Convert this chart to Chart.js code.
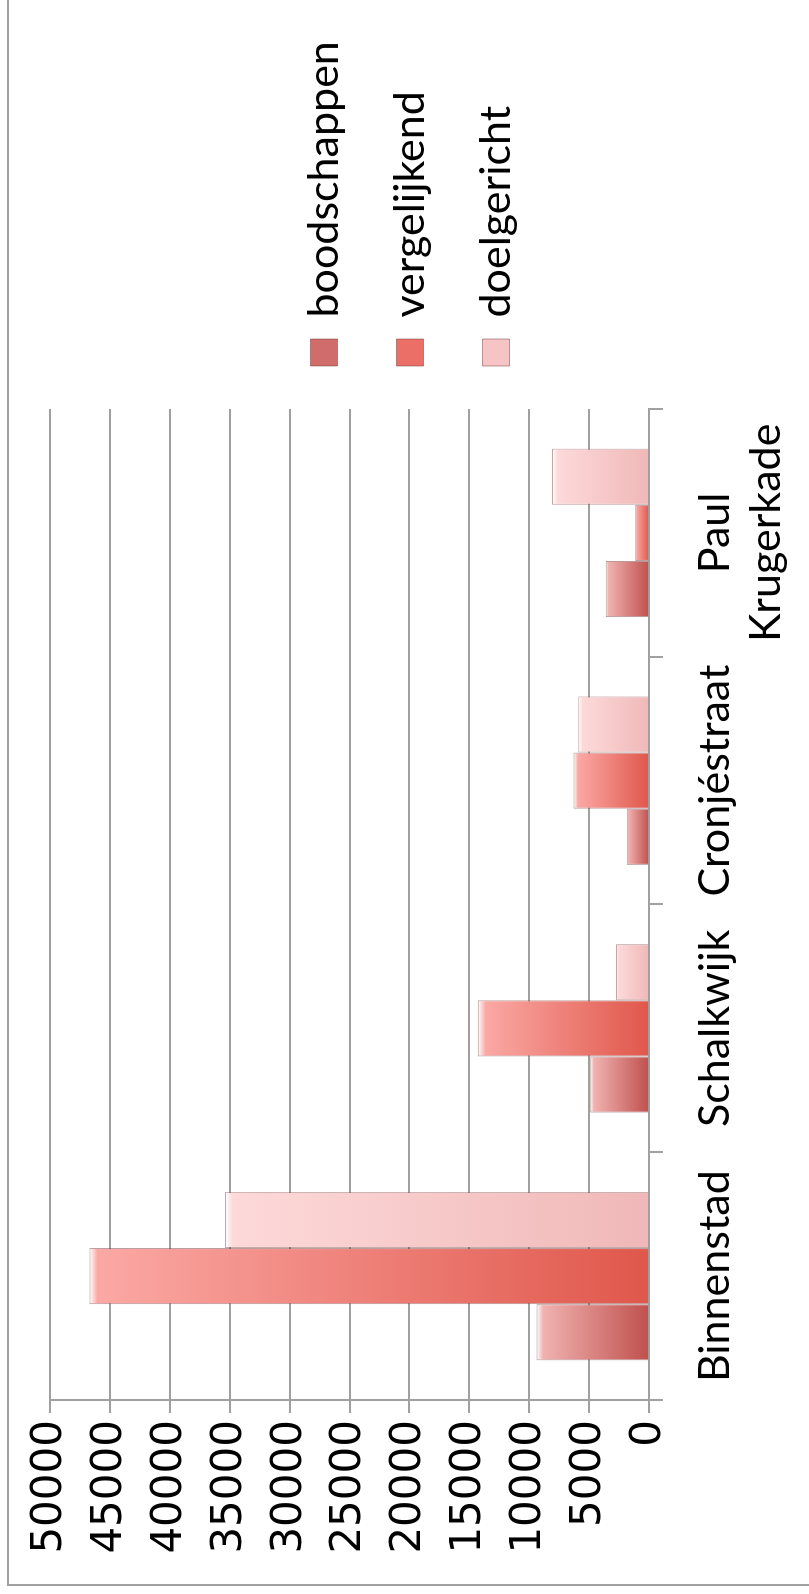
<!DOCTYPE html>
<html>
<head>
<meta charset="utf-8">
<script src="https://cdn.jsdelivr.net/npm/chart.js@4/dist/chart.umd.min.js"></script>
<style>
    html, body { margin: 0; padding: 0; background: #fff; overflow: hidden; }
    body { width: 809px; height: 1594px; position: relative; }
    /* de grafiek staat een kwartslag gedraaid */
    #wrap {
        position: absolute; left: 0; top: 0;
        width: 1594px; height: 809px;
        transform-origin: 0 0;
        transform: translate(0, 1594px) rotate(-90deg);
    }
</style>
</head>
<body>
<div id="wrap"><canvas id="chart" width="1594" height="809"></canvas></div>
<script>
// gegevens
const categories = ['Binnenstad', 'Schalkwijk', 'Cronjéstraat', ['Paul', 'Krugerkade']]
const seriesNames = ['boodschappen', 'vergelijkend', 'doelgericht']
const boodschappen = [9400, 4900, 1850, 3600]
const vergelijkend = [46700, 14300, 6300, 1150]
const doelgericht = [35400, 2750, 5900, 8100]
const yTicks = [0, 5000, 10000, 15000, 20000, 25000, 30000, 35000, 40000, 45000, 50000]

const gridColor = '#a0a0a0'
const legendColors = ['#d06c69', '#ec6f67', '#f6c4c4']

// verloop per balk: licht aan de kop, donker aan de voet
function barFill(light, dark, flat) {
    return ctx => {
        if (ctx.type !== 'data') return flat
        const chart = ctx.chart
        if (!chart.chartArea) return flat
        const y = chart.scales.y
        const top = y.getPixelForValue(ctx.parsed.y)
        const base = y.getPixelForValue(0)
        if (base - top < 2) return dark
        const g = chart.ctx.createLinearGradient(0, top, 0, base)
        g.addColorStop(0, '#ffffff')
        g.addColorStop(Math.min(0.06, 8 / (base - top)), light)
        g.addColorStop(1, dark)
        return g
    }
}

// kader om de grafiek
const framePlugin = {
    id: 'frame',
    beforeDraw(chart) {
        const c = chart.ctx
        c.save()
        c.fillStyle = '#fff'
        c.fillRect(0, 0, chart.width, chart.height)
        c.strokeStyle = gridColor
        c.lineWidth = 2
        c.strokeRect(9, 8, 3000, 3000)
        c.restore()
    }
}

const ctx = document.getElementById('chart').getContext('2d')
new Chart(ctx, {
    type: 'bar',
    data: {
        labels: categories,
        datasets: [
            {
                label: seriesNames[0],
                data: boodschappen,
                backgroundColor: barFill('#f0b2b0', '#c0504d', legendColors[0]),
                borderColor: 'rgba(120,60,60,0.55)',
                borderWidth: 1
            },
            {
                label: seriesNames[1],
                data: vergelijkend,
                backgroundColor: barFill('#fba8a4', '#e0574b', legendColors[1]),
                borderColor: 'rgba(120,60,60,0.55)',
                borderWidth: 1
            },
            {
                label: seriesNames[2],
                data: doelgericht,
                backgroundColor: barFill('#fdd9d9', '#f0b8b8', legendColors[2]),
                borderColor: 'rgba(120,60,60,0.45)',
                borderWidth: 1
            }
        ]
    },
    options: {
        responsive: false,
        animation: false,
        devicePixelRatio: 1,
        layout: { padding: { top: 31, bottom: 20, left: 0, right: 34 } },
        datasets: { bar: { categoryPercentage: 0.68, barPercentage: 1 } },
        plugins: {
            legend: {
                position: 'right',
                maxWidth: 375,
                labels: {
                    boxWidth: 27,
                    boxHeight: 27,
                    padding: 43,
                    color: '#000',
                    font: { family: 'Lato', size: 43 },
                    generateLabels: chart => Chart.defaults.plugins.legend.labels.generateLabels(chart)
                        .map((item, i) => ({ ...item, fillStyle: legendColors[i], strokeStyle: 'rgba(120,60,60,0.5)', lineWidth: 1 }))
                }
            },
            tooltip: { enabled: false }
        },
        scales: {
            x: {
                grid: { drawOnChartArea: false, color: gridColor, lineWidth: 2, tickLength: 14 },
                border: { color: gridColor, width: 2 },
                ticks: { color: '#000', padding: 26, maxRotation: 0, font: { family: 'Lato', size: 43 } },
                afterFit: s => { s.height = 140 }
            },
            // lege strook boven het plotvlak
            xTop: {
                type: 'category',
                position: 'top',
                grid: { display: false },
                border: { display: false },
                ticks: { display: false },
                afterFit: s => { s.height = 19 }
            },
            y: {
                min: yTicks[0],
                max: yTicks[yTicks.length - 1],
                afterBuildTicks: s => { s.ticks = yTicks.map(v => ({ value: v })) },
                grid: { color: gridColor, lineWidth: 2, tickLength: 13 },
                border: { color: gridColor, width: 2 },
                ticks: {
                    color: '#000',
                    padding: 7,
                    font: { family: 'DejaVu Sans', size: 42 },
                    callback: v => String(v)
                },
                afterFit: s => { s.width = 194 }
            }
        }
    },
    plugins: [framePlugin]
})
</script>
</body>
</html>
